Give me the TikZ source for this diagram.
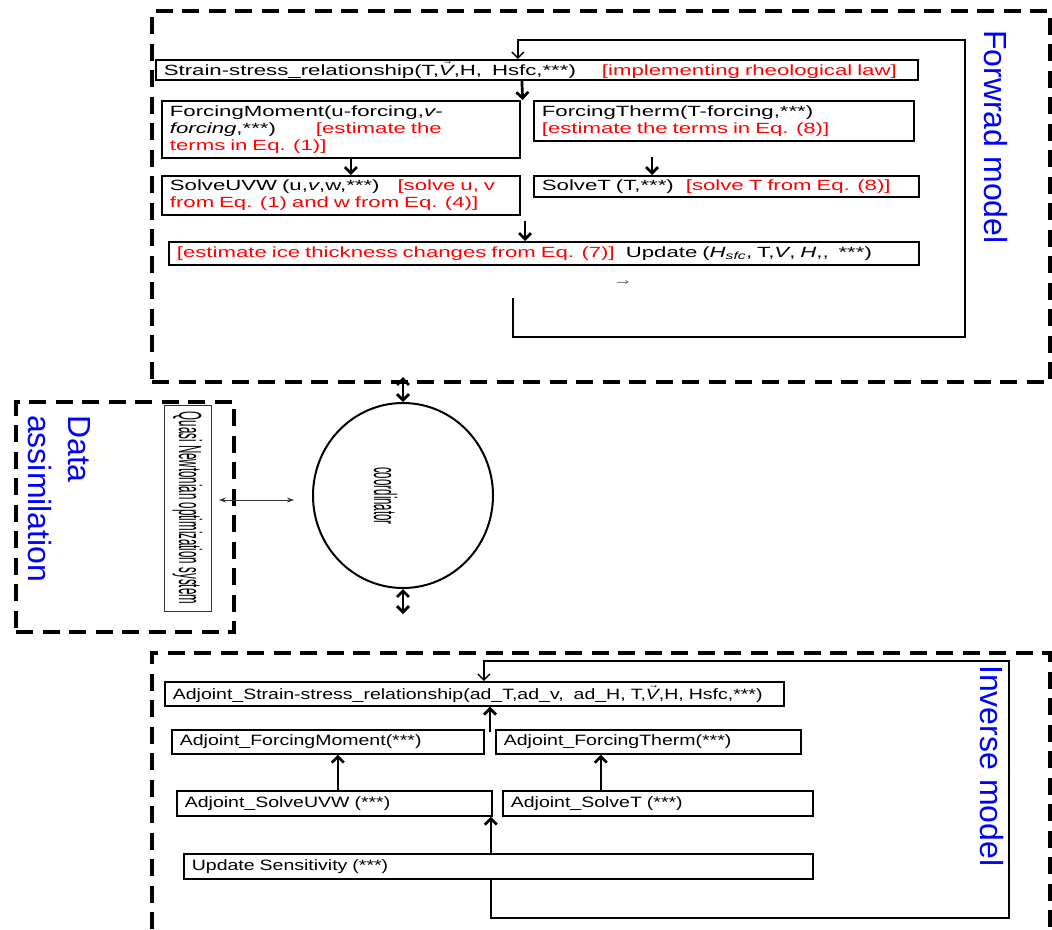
\documentclass[tikz,border=0pt]{standalone}
\usepackage{fontspec}
\setmainfont{Liberation Sans}
\newfontfamily\fwdfont[FakeStretch=1.50]{Liberation Sans}
\newfontfamily\invfont[FakeStretch=1.30]{Liberation Sans}
\newfontfamily\narrowfont[FakeStretch=0.36]{Liberation Sans}
\newcommand{\rtxt}[1]{\textcolor{red}{#1}}
\newcommand{\vecV}{\ensuremath{\vec{\hbox{\itshape V}}}}
\usetikzlibrary{arrows.meta,shapes.geometric}

\begin{document}
\begin{tikzpicture}[x=1pt,y=-1pt,line cap=butt,line join=miter,>={Straight Barb[length=6pt,width=12pt]}]
				\tikzset{frame/.style={draw,line width=4pt,dash pattern=on 17pt off 9.5pt,inner sep=0pt,anchor=north west},
					fbox/.style={draw,line width=1.7pt,anchor=north west,inner xsep=8pt,inner ysep=1pt,align=left,
						font=\fwdfont\fontsize{14.8}{17}\selectfont},
					ibox/.style={draw,line width=1.7pt,anchor=north west,inner xsep=8pt,inner ysep=1pt,align=left,
						font=\invfont\fontsize{15}{17}\selectfont},
					arr/.style={->,line width=2.7pt},
					loopline/.style={->,line width=1.4pt},
					bluetxt/.style={blue,rotate=-90,anchor=base west,inner sep=0pt,font=\fontsize{32}{36}\selectfont},
					narrowtxt/.style={inner sep=0pt,font=\narrowfont\fontsize{32}{34}\selectfont}
				}
				\useasboundingbox (0,0) rectangle (1052,929);
				\node[frame,minimum width=898pt,minimum height=371pt] (fwdbox) at (150,9) {};
				\node[frame,minimum width=218pt,minimum height=230pt] (dabox) at (14,400) {};
				\node[frame,minimum width=898pt,minimum height=330pt] (invbox) at (150,651) {};
				\node[bluetxt] (fwdlbl) at (984,30) {Forwrad model};
				\node[bluetxt] (invlbl) at (980,665) {Inverse model};
				\node[bluetxt] (dalblA) at (68,415) {Data};
				\node[bluetxt] (dalblB) at (28,415) {assimilation};
				\node[fbox,text width=746pt,minimum height=20pt] (strain) at (155,59)
					{Strain-stress\_relationship(T,\vecV,H,~~Hsfc,***)\hspace{26pt}\rtxt{[implementing rheological law]}};
				\node[fbox,text width=342pt,minimum height=57pt] (fmom) at (161,100)
					{ForcingMoment(u-forcing,\textit{v-}\\\textit{forcing},***)\hspace{40pt}\rtxt{[estimate the}\\\rtxt{terms in Eq. (1)]}};
				\node[fbox,text width=364pt,minimum height=40pt] (ftherm) at (533,100)
					{ForcingTherm(T-forcing,***)\\\rtxt{[estimate the terms in Eq. (8)]}};
				\node[fbox,text width=342pt,minimum height=39pt] (suvw) at (161,175)
					{SolveUVW (u,\textit{v},w,***)\hspace{18pt}\rtxt{[solve u, v}\\\rtxt{from Eq. (1) and w from Eq. (4)]}};
				\node[fbox,text width=369pt,minimum height=21pt] (solvet) at (533,175)
					{SolveT (T,***)\hspace{12pt}\rtxt{[solve T from Eq. (8)]}};
				\node[fbox,text width=734pt,minimum height=23pt] (update) at (168,241)
					{\rtxt{[estimate ice thickness changes from Eq. (7)]}\hspace{6pt} Update (\textit{H\textsubscript{sfc}}, T,\textit{V}, \textit{H},,~~***)};
				\coordinate (lpA) at (513,298);
				\draw[loopline] (lpA) |- (965,337) -- (965,40) -| ([xshift=-19pt]strain.north);
				\draw[arr] ([xshift=-15pt]strain.south) -- ([xshift=2pt]fmom.north east);
				\draw[arr] ([xshift=10pt]fmom.south) -- ([xshift=10pt]suvw.north);
				\coordinate (ftA) at (652,157);
				\draw[arr] (ftA) -- (ftA |- solvet.north);
				\coordinate (upA) at (525,221);
				\draw[arr] (upA) -- (upA |- update.north);
				\coordinate (tinyA) at (617,282); \coordinate (tinyB) at (629,282);
				\draw[gray,line width=0.6pt,-{Stealth[length=4pt,width=4pt]}] (tinyA) -- (tinyB);
				\node[draw=black!80,line width=1pt,rotate=-90,minimum width=206pt,minimum height=47pt,narrowtxt] (quasi) at (187.5,508)
					{Quasi Newtonian optimization system};
				\node[ellipse,draw,line width=2pt,minimum width=180pt,minimum height=185pt,inner sep=0pt] (coord) at (403,495.5) {};
				\node[narrowtxt,rotate=-90,anchor=base west] (coordtxt) at (374,467) {coordinator};
				\draw[arr,<->] (coord.north |- 0,377) -- (coord.north);
				\coordinate (cdB) at (403,614);
				\draw[arr,<->] (coord.south) -- (cdB);
				\coordinate (daA) at (219,500); \coordinate (daB) at (294,500);
				\draw[line width=1pt,black!80,{Stealth[length=7pt,width=5pt]}-{Stealth[length=7pt,width=5pt]}] (daA) -- (daB);
				\node[ibox,text width=603pt,minimum height=24pt] (adjstr) at (164,681)
					{Adjoint\_Strain-stress\_relationship(ad\_T,ad\_v,~~ad\_H, T,\vecV,H, Hsfc,***)};
				\node[ibox,text width=296pt,minimum height=24pt] (adjfm) at (171,729) {Adjoint\_ForcingMoment(***)};
				\node[ibox,text width=289pt,minimum height=24pt] (adjft) at (495,729) {Adjoint\_ForcingTherm(***)};
				\node[ibox,text width=299pt,minimum height=25pt] (adjsu) at (176,790) {Adjoint\_SolveUVW (***)};
				\node[ibox,text width=294pt,minimum height=25pt] (adjst) at (502,790) {Adjoint\_SolveT (***)};
				\node[ibox,text width=613pt,minimum height=25pt] (updsens) at (183,853) {Update Sensitivity (***)};
				\draw[loopline] ([xshift=-7.5pt]updsens.south) |- (1009,918) -- (1009,661) -| ([xshift=9.5pt]adjstr.north);
				\coordinate (ivA) at (490,732);
				\draw[arr] (ivA) -- (ivA |- adjstr.south);
				\draw[arr] ([xshift=3.5pt]adjsu.north) -- ([xshift=3.5pt]adjsu.north |- adjfm.south);
				\draw[arr] ([xshift=-57pt]adjst.north) -- ([xshift=-57pt]adjst.north |- adjft.south);
				\draw[arr] ([xshift=-7.5pt]updsens.north) -- ([xshift=-7.5pt]updsens.north |- adjsu.south);
			\end{tikzpicture}
\end{document}
